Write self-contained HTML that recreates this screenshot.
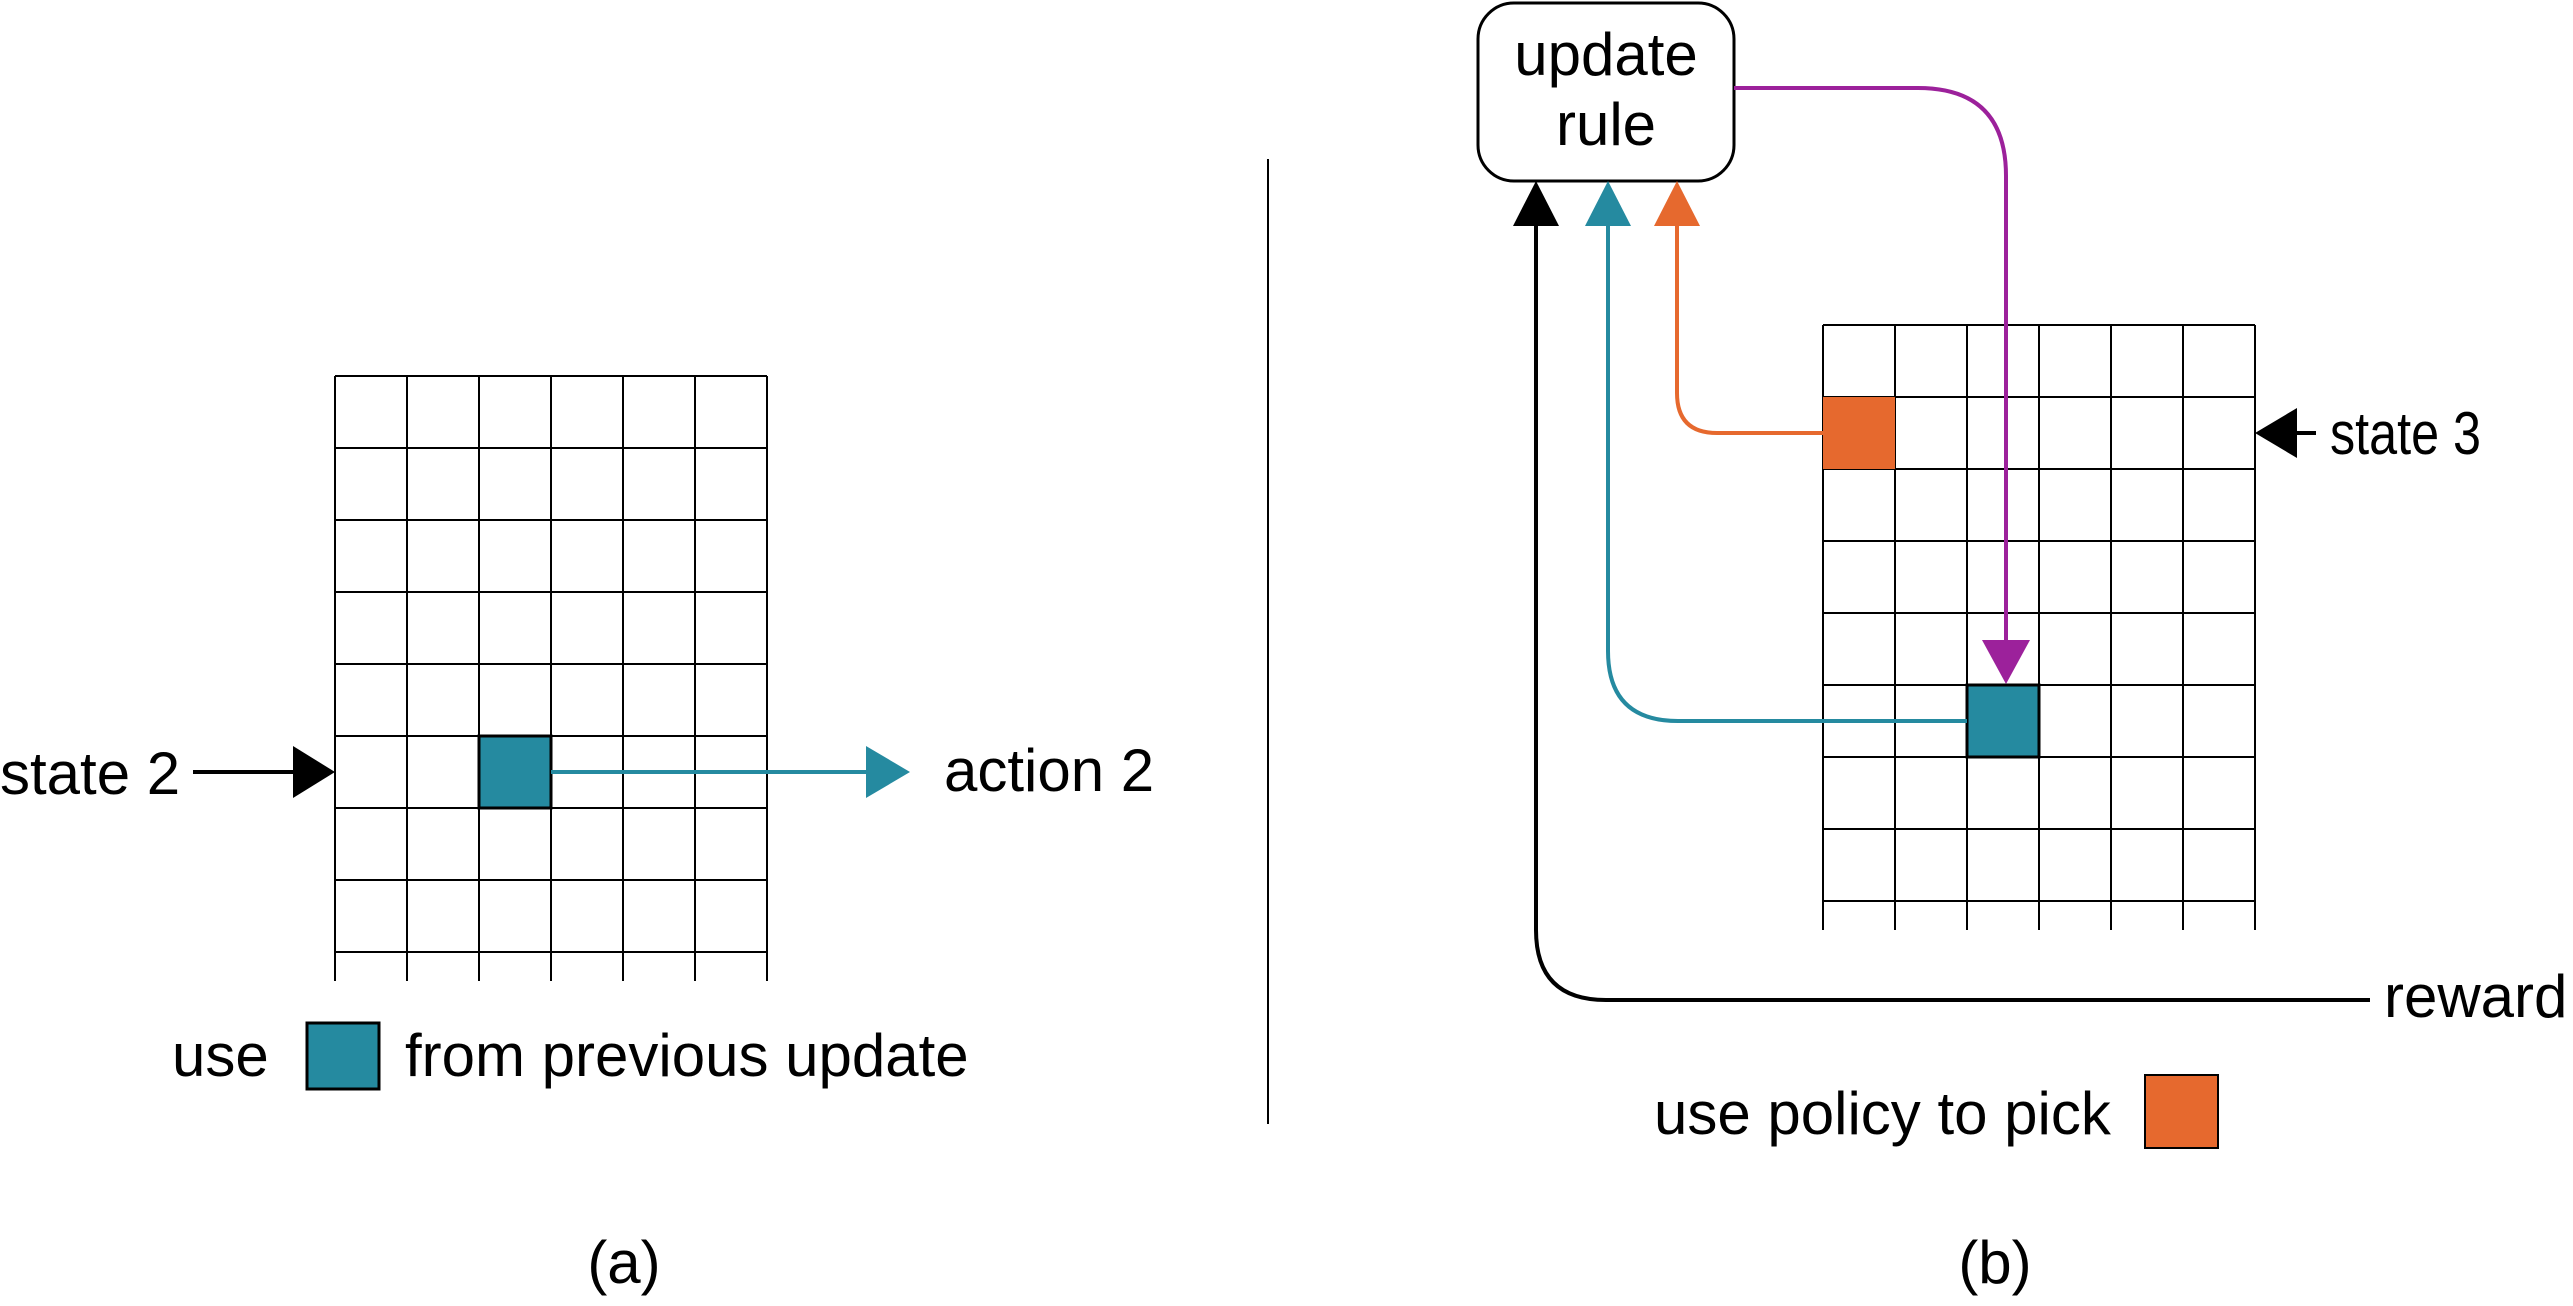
<!DOCTYPE html>
<html><head><meta charset="utf-8"><style>
html,body{margin:0;padding:0;background:#fff}
svg{display:block}
text{font-family:"Liberation Sans",Arial,sans-serif;font-size:60px;fill:#000}
</style></head><body>
<svg width="2573" height="1306" viewBox="0 0 2573 1306" xmlns="http://www.w3.org/2000/svg">
<g stroke="#000" stroke-width="2" fill="none">
<line x1="335" y1="376" x2="767" y2="376"/>
<line x1="335" y1="448" x2="767" y2="448"/>
<line x1="335" y1="520" x2="767" y2="520"/>
<line x1="335" y1="592" x2="767" y2="592"/>
<line x1="335" y1="664" x2="767" y2="664"/>
<line x1="335" y1="736" x2="767" y2="736"/>
<line x1="335" y1="808" x2="767" y2="808"/>
<line x1="335" y1="880" x2="767" y2="880"/>
<line x1="335" y1="952" x2="767" y2="952"/>
<line x1="335" y1="376" x2="335" y2="981"/>
<line x1="407" y1="376" x2="407" y2="981"/>
<line x1="479" y1="376" x2="479" y2="981"/>
<line x1="551" y1="376" x2="551" y2="981"/>
<line x1="623" y1="376" x2="623" y2="981"/>
<line x1="695" y1="376" x2="695" y2="981"/>
<line x1="767" y1="376" x2="767" y2="981"/>
</g>
<rect x="479" y="736" width="72" height="72" fill="#258aa0" stroke="#000" stroke-width="3"/>
<line x1="193" y1="772" x2="296" y2="772" stroke="#000" stroke-width="4"/>
<polygon points="293,746 335,772 293,798" fill="#000"/>
<line x1="551" y1="772" x2="870" y2="772" stroke="#258aa0" stroke-width="4"/>
<polygon points="866,746 910,772 866,798" fill="#258aa0"/>
<text x="0" y="794">state 2</text>
<text x="944" y="791">action 2</text>
<text x="172" y="1076">use</text>
<rect x="307" y="1023" width="72" height="66" fill="#258aa0" stroke="#000" stroke-width="3"/>
<text x="405" y="1076">from previous update</text>
<text x="624" y="1283" text-anchor="middle">(a)</text>
<line x1="1268" y1="159" x2="1268" y2="1124" stroke="#000" stroke-width="2"/>

<rect x="1478" y="3" width="256" height="178" rx="36" fill="#fff" stroke="#000" stroke-width="3"/>
<text x="1606" y="75" text-anchor="middle">update</text>
<text x="1606" y="145" text-anchor="middle">rule</text>
<g stroke="#000" stroke-width="2" fill="none">
<line x1="1823" y1="325" x2="2255" y2="325"/>
<line x1="1823" y1="397" x2="2255" y2="397"/>
<line x1="1823" y1="469" x2="2255" y2="469"/>
<line x1="1823" y1="541" x2="2255" y2="541"/>
<line x1="1823" y1="613" x2="2255" y2="613"/>
<line x1="1823" y1="685" x2="2255" y2="685"/>
<line x1="1823" y1="757" x2="2255" y2="757"/>
<line x1="1823" y1="829" x2="2255" y2="829"/>
<line x1="1823" y1="901" x2="2255" y2="901"/>
<line x1="1823" y1="325" x2="1823" y2="930"/>
<line x1="1895" y1="325" x2="1895" y2="930"/>
<line x1="1967" y1="325" x2="1967" y2="930"/>
<line x1="2039" y1="325" x2="2039" y2="930"/>
<line x1="2111" y1="325" x2="2111" y2="930"/>
<line x1="2183" y1="325" x2="2183" y2="930"/>
<line x1="2255" y1="325" x2="2255" y2="930"/>
</g>
<rect x="1823" y="397" width="72" height="72" fill="#e6692e"/>
<rect x="1967" y="685" width="72" height="72" fill="#258aa0" stroke="#000" stroke-width="3"/>
<path d="M1823 433 H1717 Q1677 433 1677 393 V222" fill="none" stroke="#e6692e" stroke-width="4"/>
<polygon points="1654,226 1677,181 1700,226" fill="#e6692e"/>
<path d="M1967 721 H1678 Q1608 721 1608 651 V222" fill="none" stroke="#258aa0" stroke-width="4"/>
<polygon points="1585,226 1608,181 1631,226" fill="#258aa0"/>
<path d="M2370 1000 H1606 Q1536 1000 1536 930 V222" fill="none" stroke="#000" stroke-width="4"/>
<polygon points="1513,226 1536,181 1559,226" fill="#000"/>
<path d="M1734 88 H1918 Q2006 88 2006 176 V650" fill="none" stroke="#9c219b" stroke-width="4"/>
<polygon points="1982,640 2030,640 2006,684" fill="#9c219b"/>
<line x1="2290" y1="433" x2="2316" y2="433" stroke="#000" stroke-width="4"/>
<polygon points="2297,408 2255,433 2297,458" fill="#000"/>
<text x="2330" y="454" textLength="151" lengthAdjust="spacingAndGlyphs">state 3</text>
<text x="2384" y="1017">reward</text>
<text x="1654" y="1134">use policy to pick</text>
<rect x="2145" y="1075" width="73" height="73" fill="#e6692e" stroke="#000" stroke-width="2"/>
<text x="1995" y="1283" text-anchor="middle">(b)</text>
</svg>
</body></html>
